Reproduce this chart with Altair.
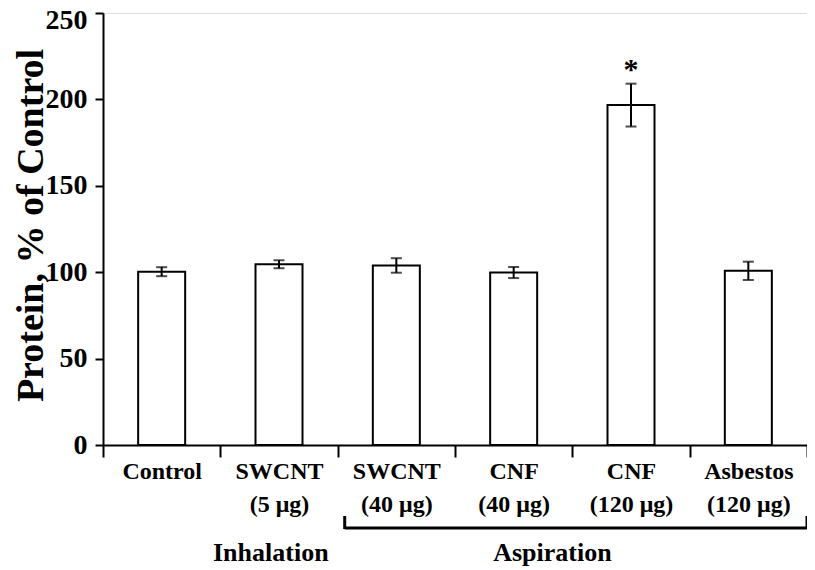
import altair as alt
import pandas as pd

# ---- data ----
categories = ["Control", "SWCNT\n(5 μg)", "SWCNT\n(40 μg)", "CNF\n(40 μg)", "CNF\n(120 μg)", "Asbestos\n(120 μg)"]
means = [100.3, 104.6, 103.9, 99.8, 196.7, 100.8]
errors = [2.6, 2.3, 4.2, 3.2, 12.4, 5.3]
significance = ["", "", "", "", "*", ""]
y_ticks = [0, 50, 100, 150, 200, 250]
group_inhalation = ["Inhalation"]
group_aspiration = ["Aspiration"]
aspiration_first = "SWCNT\n(40 μg)"
aspiration_last = "Asbestos\n(120 μg)"
inhalation_cat = "SWCNT\n(5 μg)"
aspiration_label_cat = "CNF\n(40 μg)"

FONT = "Liberation Serif"

df = pd.DataFrame({"cat": categories, "mean": means, "err": errors, "sig": significance})
df["lo"] = df["mean"] - df["err"]
df["hi"] = df["mean"] + df["err"]

xscale = alt.Scale(domain=categories, paddingInner=0, paddingOuter=0)
yscale = alt.Scale(domain=[0, 250], nice=False)

x_axis = alt.Axis(
    title="",
    labelAngle=0,
    labelExpr="split(datum.label, '\\n')",
    labelFont=FONT, labelFontSize=24, labelFontWeight="bold", labelColor="black",
    labelBaseline="top", labelLineHeight=33, labelPadding=2,
    tickBand="extent", tickSize=12, tickWidth=2, tickColor="black",
    domainColor="black", domainWidth=2, grid=False,
)
y_axis = alt.Axis(
    title="Protein, % of Control",
    values=y_ticks,
    labelFont=FONT, labelFontSize=28, labelFontWeight="bold", labelColor="black",
    labelPadding=8,
    labelOffset={"condition": {"test": "datum.value === 250", "value": 7}, "value": 0},
    tickSize=8, tickWidth=2, tickColor="black",
    domainColor="black", domainWidth=2, grid=False,
    titleFont=FONT, titleFontSize=38, titleFontWeight="bold", titleColor="black",
    titleAngle=270, titleX=-61, titleY=212, titleAlign="center", titleBaseline="alphabetic",
)

base = alt.Chart(df)

bars = base.mark_bar(fill="white", stroke="black", strokeWidth=2, size=47).encode(
    x=alt.X("cat:N", scale=xscale, axis=x_axis, sort=categories),
    y=alt.Y("mean:Q", scale=yscale, axis=y_axis),
)
rules = base.mark_rule(color="black", strokeWidth=2).encode(
    x=alt.X("cat:N", scale=xscale, sort=categories),
    y="lo:Q", y2="hi:Q",
)
cap_lo = base.mark_tick(color="black", size=11, thickness=2).encode(
    x=alt.X("cat:N", scale=xscale, sort=categories), y="lo:Q",
)
cap_hi = base.mark_tick(color="black", size=11, thickness=2).encode(
    x=alt.X("cat:N", scale=xscale, sort=categories), y="hi:Q",
)
star = base.transform_filter("datum.sig != ''").mark_text(
    font=FONT, fontSize=30, fontWeight="bold", color="black", baseline="alphabetic", dy=-5,
).encode(
    x=alt.X("cat:N", scale=xscale, sort=categories), y="hi:Q", text="sig:N",
)

grp = pd.DataFrame({"first": [aspiration_first], "last": [aspiration_last]})
bracket_h = alt.Chart(grp).mark_rule(color="black", strokeWidth=3).encode(
    x=alt.X("first:N", scale=xscale, bandPosition=0.06),
    x2=alt.X2("last:N", bandPosition=1.0),
    y=alt.value(515),
)
bracket_l = alt.Chart(grp).mark_rule(color="black", strokeWidth=3).encode(
    x=alt.X("first:N", scale=xscale, bandPosition=0.06),
    y=alt.value(503), y2=alt.value(516),
)
bracket_r = alt.Chart(grp).mark_rule(color="black", strokeWidth=3).encode(
    x=alt.X("last:N", scale=xscale, bandPosition=1.0),
    y=alt.value(503), y2=alt.value(516),
)

inh = alt.Chart(pd.DataFrame({"cat": [inhalation_cat], "label": group_inhalation})).mark_text(
    font=FONT, fontSize=26, fontWeight="bold", color="black", baseline="alphabetic", align="center",
).encode(
    x=alt.X("cat:N", scale=xscale, bandPosition=0.43), y=alt.value(548), text="label:N",
)
asp = alt.Chart(pd.DataFrame({"cat": [aspiration_label_cat], "label": group_aspiration})).mark_text(
    font=FONT, fontSize=26, fontWeight="bold", color="black", baseline="alphabetic", align="center",
).encode(
    x=alt.X("cat:N", scale=xscale, bandPosition=0.83), y=alt.value(548), text="label:N",
)

chart = alt.layer(bars, rules, cap_lo, cap_hi, star, bracket_h, bracket_l, bracket_r, inh, asp).properties(
    width=704, height=432,
    autosize=alt.AutoSizeParams(type="none"),
    padding={"left": 95, "top": 5, "right": 0, "bottom": 123},
).configure_view(stroke=None).configure(background="white")

chart.save("out.html", embed_options={"renderer": "svg", "actions": False})
